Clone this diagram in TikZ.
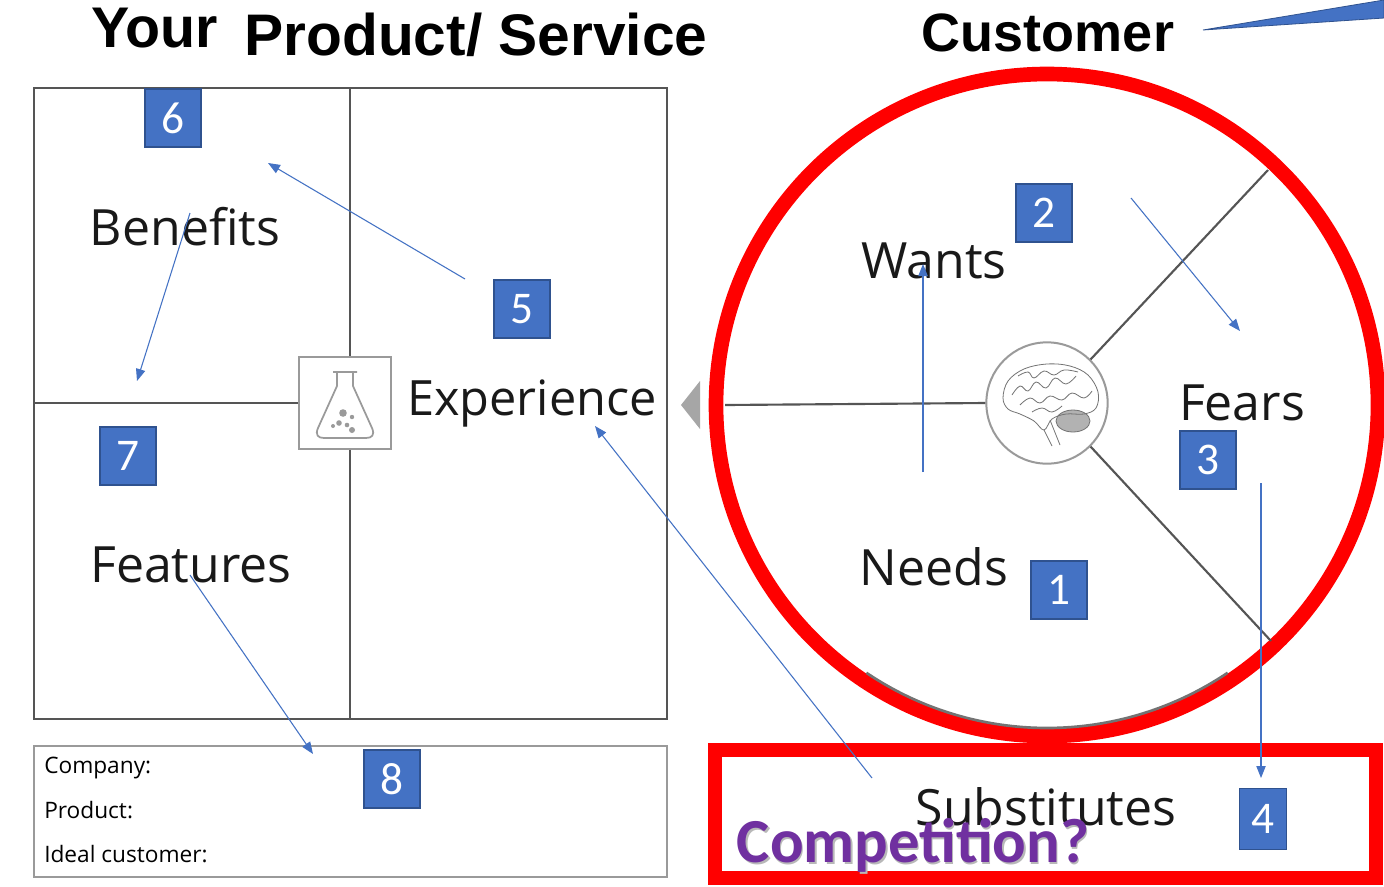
\documentclass[tikz,border=0pt]{standalone}
\usepackage{fontspec}
\setmainfont{Open Sans}
\newfontfamily\headfont{Liberation Sans}
\newfontfamily\numfont{Carlito}
\usetikzlibrary{arrows.meta}
\definecolor{numblue}{HTML}{4472C4}
\definecolor{numdark}{HTML}{2F528F}
\definecolor{gridgray}{HTML}{555555}
\definecolor{lightgray}{HTML}{9A9A9A}
\definecolor{compurple}{HTML}{7030A0}
\tikzset{
  head/.style={font=\headfont\bfseries\fontsize{44}{48}\selectfont, inner sep=0},
  bigword/.style={font=\fontsize{37.5}{42}\selectfont, text=black!90, inner sep=0},
  infotext/.style={font=\fontsize{17}{20}\selectfont, anchor=west, inner sep=0},
  numbox/.style={fill=numblue, draw=numdark, line width=1.2pt, text=white,
    minimum width=42pt, minimum height=43.5pt, inner sep=0,
    font=\numfont\fontsize{34}{40}\selectfont},
  pointer/.style={draw=numblue, line width=0.8pt,
    -{Triangle[length=9pt,width=7pt]}, fill=none},
  grid/.style={draw=gridgray, line width=1.6pt},
  iconline/.style={draw=lightgray, line width=1.3pt},
  redmark/.style={draw=red, line width=11pt},
}
\begin{document}
\begin{tikzpicture}[x=0.75pt,y=-0.75pt]
\useasboundingbox (0,0) rectangle (1384,886);
\fill[white] (0,0) rectangle (1384,886);

% ---- headings
\node[head, font=\headfont\bfseries\fontsize{43}{48}\selectfont] (your) at (155,28) {Your};
\node[head] (prodserv) at (476,35) {Product/ Service};
\node[head, font=\headfont\bfseries\fontsize{40.5}{46}\selectfont] (customer) at (1048,33) {Customer};
\fill[numblue, draw=numdark, line width=0.6pt] (1203,30) -- (1384,0) -- (1384,18) -- cycle;

% ---- product side: square grid
\draw[grid] (34,88) rectangle (667,719);
\node[draw=lightgray, line width=1.3pt, minimum width=69pt, minimum height=69pt, inner sep=0] (flaskbox) at (345,403) {};
\draw[grid] (350,88) -- (flaskbox.north -| 350,0);
\draw[grid] (flaskbox.south -| 350,0) -- (350,719);
\draw[grid] (34,403) -- (flaskbox.west);

% flask icon
\draw[iconline, line join=round]
  (333,372) -- (357,372)
  (337,372) -- (337,386) -- (318,428)
  .. controls (315,435) and (318,438) .. (324,438) -- (366,438)
  .. controls (372,438) and (375,435) .. (372,428) -- (353,386) -- (353,372);
\fill[lightgray] (343,413) circle (3.8) (352,417) circle (2.2) (339,423) circle (2.8)
  (347,425) circle (2.3) (333,426) circle (2) (352,430) circle (3);

\node[bigword] (benefits) at (185,227) {Benefits};
\node[bigword, font=\fontsize{36.5}{42}\selectfont] (experience) at (532,403) {Experience};
\node[bigword] (features) at (191,565) {Features};

% small triangle between the halves
\fill[black!35] (700,381) -- (700,429) -- (681,405) -- cycle;

% info box
\draw[draw=lightgray, line width=1.2pt] (34,746) rectangle (667,877);
\node[infotext] (company) at (44,768) {Company:};
\node[infotext] (product) at (44,810) {Product:};
\node[infotext] (ideal) at (44,854) {Ideal customer:};

% ---- customer side
\draw[redmark] (1047,405) circle (331);
\draw[draw=black!55, line width=2pt] (1047,405) ++(56:323) arc (56:124:323);
\node[circle, draw=lightgray, line width=1.5pt, minimum size=91pt, inner sep=0] (brain) at (1047,403) {};
\draw[grid] (725,405) -- (brain.west);
\draw[grid] (brain.45) -- (1268,170);
\draw[grid] (brain.-45) -- (1271,641);

% brain sketch
\begin{scope}[draw=black!55, line width=0.6pt]
\fill[black!30] (1073,421) ellipse (17 and 11);
\draw (1073,421) ellipse (17 and 11);
\draw plot[smooth cycle, tension=0.6] coordinates {(1003,398) (1008,381) (1024,369) (1047,364) (1070,366) (1088,375) (1098,392) (1096,408) (1084,414) (1066,414) (1052,419) (1044,430) (1034,421) (1020,414) (1008,409)};
\draw (1044,430) -- (1052,446) (1050,420) -- (1060,445);
\draw plot[smooth, tension=0.7] coordinates {(1012,395) (1020,386) (1028,391) (1036,382) (1046,388) (1055,378) (1066,384) (1076,376)};
\draw plot[smooth, tension=0.7] coordinates {(1020,405) (1030,398) (1040,403) (1050,396) (1062,400) (1072,393) (1084,398) (1092,391)};
\draw plot[smooth, tension=0.7] coordinates {(1018,376) (1028,372) (1034,378) (1044,371) (1054,375) (1064,370) (1078,372)};
\draw plot[smooth, tension=0.7] coordinates {(1032,412) (1042,408) (1052,412) (1062,406)};
\end{scope}

\node[bigword] (wants) at (934,261) {Wants};
\node[bigword] (needs) at (934,567) {Needs};
\node[bigword] (fears) at (1242,403) {Fears};

% competition box
\draw[redmark] (715,750) rectangle (1376,878);
\node[bigword] (subst) at (1046,807) {Substitutes};
\node[font=\numfont\bfseries\fontsize{47}{52}\selectfont, text=black!28, inner sep=0] at (914.5,847.5) {Competition?};
\node[font=\numfont\bfseries\fontsize{47}{52}\selectfont, text=compurple, inner sep=0] (compet) at (913,845) {Competition?};

% ---- numbered markers
\node[numbox] (n1) at (1059,590) {1};
\node[numbox] (n2) at (1044,213) {2};
\node[numbox] (n3) at (1208,460) {3};
\node[numbox, minimum width=35pt, minimum height=46pt] (n4) at (1263,819) {4};
\node[numbox] (n5) at (522,309) {5};
\node[numbox] (n6) at (173,118) {6};
\node[numbox] (n7) at (128,456) {7};
\node[numbox] (n8) at (392,779) {8};

% ---- pointers
\coordinate (p5a) at (465,279);  \coordinate (p5b) at (268,163);
\coordinate (pba) at (190,213);  \coordinate (pbb) at (137,381);
\coordinate (pwa) at (923,472);  \coordinate (pwb) at (923,264);
\coordinate (p2a) at (1131,198); \coordinate (p2b) at (1240,331);
\coordinate (p3a) at (1261,483); \coordinate (p3b) at (1261,778);
\coordinate (psa) at (872,778);  \coordinate (psb) at (595,426);
\coordinate (pfa) at (190,575);  \coordinate (pfb) at (313,754);
\draw[pointer] (p5a) -- (p5b);
\draw[pointer] (pba) -- (pbb);
\draw[pointer] (pwa) -- (pwb);
\draw[pointer] (p2a) -- (p2b);
\draw[pointer] (p3a) -- (p3b);
\draw[pointer] (psa) -- (psb);
\draw[pointer] (pfa) -- (pfb);
\end{tikzpicture}
\end{document}
